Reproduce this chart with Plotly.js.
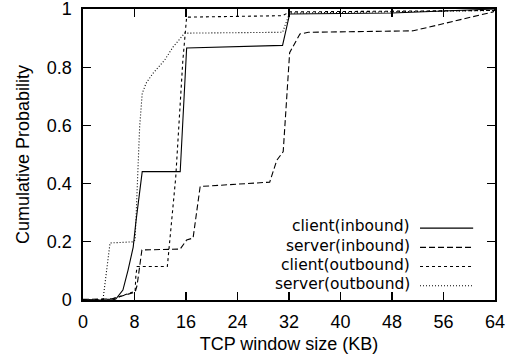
<!DOCTYPE html>
<html>
<head>
<meta charset="utf-8">
<script src="https://cdn.plot.ly/plotly-3.0.1.min.js"></script>
<style>html,body{margin:0;padding:0;background:#fff;}#chart{width:506px;height:362px;}</style>
</head>
<body>
<div id="chart"></div>
<script>
// TCP window size (KB) vs cumulative probability
const clientInboundX = [0, 4.5, 5.1, 6.2, 7.0, 7.8, 8.2, 9.0, 9.2, 15.1, 16.1, 31.0, 32.1, 48, 64];
const clientInboundY = [0, 0, 0.003, 0.034, 0.103, 0.182, 0.265, 0.41, 0.441, 0.441, 0.866, 0.875, 0.983, 0.986, 1.0];

const serverInboundX = [0, 4.5, 8.1, 8.4, 9.15, 15.1, 16.1, 17.1, 18.2, 29.0, 30.1, 31.1, 32.1, 33.7, 35.0, 51.3, 63.7, 64];
const serverInboundY = [0.002, 0.004, 0.027, 0.05, 0.172, 0.175, 0.206, 0.213, 0.39, 0.405, 0.48, 0.51, 0.85, 0.914, 0.92, 0.925, 0.99, 1.0];

const clientOutboundX = [0, 4.5, 8.1, 8.2, 8.4, 13.1, 14.4, 15.5, 16.1, 31.0, 32.1, 64];
const clientOutboundY = [0, 0.003, 0.03, 0.08, 0.115, 0.115, 0.42, 0.82, 0.972, 0.977, 0.99, 0.995];

const serverOutboundX = [0, 3.1, 4.2, 7.8, 8.1, 8.5, 8.8, 9.2, 9.8, 10.9, 12.7, 14.0, 15.8, 31.0, 32.1, 64];
const serverOutboundY = [0, 0, 0.196, 0.2, 0.206, 0.41, 0.595, 0.71, 0.745, 0.78, 0.825, 0.87, 0.917, 0.92, 0.986, 0.995];

const seriesNames = ["client(inbound)", "server(inbound)", "client(outbound)", "server(outbound)"];
const seriesDash = ["solid", "6px,3px", "3px,3px", "1px,2px"];

const xTicks = [0, 8, 16, 24, 32, 40, 48, 56, 64];
const yTicks = [0, 0.2, 0.4, 0.6, 0.8, 1];
const yTickText = ["0", "0.2", "0.4", "0.6", "0.8", "1"];

const FONT = "Liberation Sans, Arial, sans-serif";
const FS = 18;
const LEG_FONT = "DejaVu Sans, sans-serif";
const LEG_FS = 15.5;

const xs = [clientInboundX, serverInboundX, clientOutboundX, serverOutboundX];
const ys = [clientInboundY, serverInboundY, clientOutboundY, serverOutboundY];

const traces = xs.map((x, i) => ({
  x: x, y: ys[i], type: "scatter", mode: "lines", name: seriesNames[i],
  line: {color: "#000", width: 1.1, dash: seriesDash[i]}, showlegend: false, hoverinfo: "skip",
  cliponaxis: false
}));

// manual gnuplot-style legend (text right, sample line right of text)
const legY = [0.253, 0.187, 0.121, 0.055];
const annotations = seriesNames.map((n, i) => ({
  xref: "paper", yref: "paper", x: 0.795, y: legY[i], xanchor: "right", yanchor: "middle",
  text: n, showarrow: false, borderpad: 0,
  font: {family: LEG_FONT, size: LEG_FS, color: "#000"}
}));
const shapes = seriesNames.map((n, i) => ({
  type: "line", xref: "paper", yref: "paper", x0: 0.818, x1: 0.947, y0: legY[i] - 0.006, y1: legY[i] - 0.006,
  line: {color: "#000", width: 1.1, dash: seriesDash[i]}
}));

const layout = {
  width: 506, height: 362,
  margin: {l: 83, r: 11, t: 9, b: 62},
  paper_bgcolor: "#fff", plot_bgcolor: "#fff",
  font: {family: FONT, size: FS, color: "#000"},
  xaxis: {
    range: [0, 64], tickvals: xTicks, ticktext: xTicks.map(String),
    ticks: "inside", ticklen: 8, tickwidth: 1.2, tickcolor: "#000",
    showline: true, linecolor: "#000", linewidth: 1.6, mirror: "ticks",
    showgrid: false, zeroline: false, ticklabelstandoff: 5, ticklabeloverflow: "allow",
    title: {text: "TCP window size (KB)", font: {family: FONT, size: FS}, standoff: 6},
    automargin: false
  },
  yaxis: {
    range: [0, 1], tickvals: yTicks, ticktext: yTickText,
    ticks: "inside", ticklen: 8, tickwidth: 1.2, tickcolor: "#000",
    showline: true, linecolor: "#000", linewidth: 1.6, mirror: "ticks",
    showgrid: false, zeroline: false, ticklabelstandoff: 6, ticklabeloverflow: "allow",
    title: {text: "Cumulative Probability", font: {family: FONT, size: FS}, standoff: 12},
    automargin: false
  },
  annotations: annotations,
  shapes: shapes,
  showlegend: false
};

Plotly.newPlot("chart", traces, layout, {displayModeBar: false, staticPlot: true});
</script>
</body>
</html>
